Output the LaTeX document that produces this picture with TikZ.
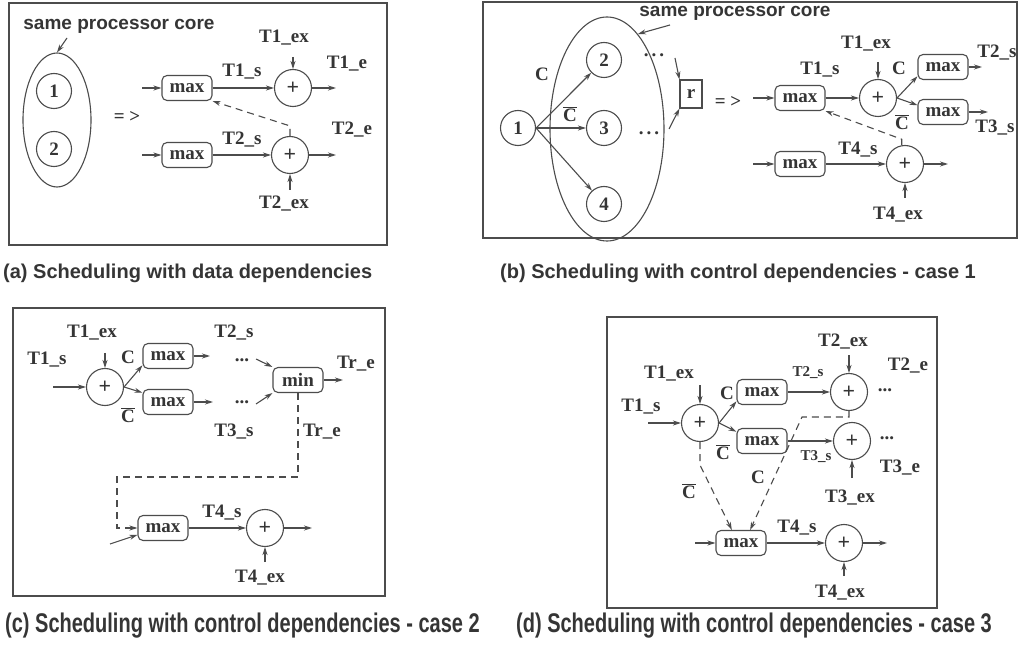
\documentclass[tikz,border=0pt]{standalone}
\usepackage{fontspec}
\usepackage{graphicx}
\setmainfont{Liberation Serif}
\newfontfamily\capsans{Liberation Sans}
\usetikzlibrary{arrows.meta,shapes.geometric}
\definecolor{ink}{HTML}{4C4C4C}
\definecolor{txt}{HTML}{353535}
\newcommand{\lblfont}{\fontsize{19}{22}\selectfont\bfseries}
\newcommand{\smlfont}{\fontsize{15}{18}\selectfont\bfseries}
\newcommand{\capfont}{\capsans\fontsize{20}{24}\selectfont\bfseries}
\newcommand{\Cbar}{$\overline{\hbox{C}}$}
\newcommand{\threedots}{.\hspace{3pt}.\hspace{3pt}.}
\tikzset{
  lbl/.style={font=\lblfont, text=txt, inner sep=0pt},
  sml/.style={font=\smlfont, text=txt, inner sep=0pt},
  maxbox/.style={draw=ink, line width=1.1pt, rounded corners=5pt, minimum width=50pt,
                 minimum height=25pt, inner sep=0pt, font=\lblfont, text=txt},
  rbox/.style={draw=ink, line width=1.1pt, minimum width=22pt, minimum height=28pt,
               inner sep=0pt, font=\lblfont, text=txt},
  sumnode/.style={circle, draw=ink, line width=1.1pt, minimum size=37pt, inner sep=0pt,
                  font=\fontsize{22}{24}\selectfont\bfseries, text=txt},
  tasknode/.style={circle, draw=ink, line width=1.1pt, minimum size=35pt, inner sep=0pt,
                   font=\lblfont, text=txt},
  coreell/.style={ellipse, draw=ink, line width=1.1pt, inner sep=0pt},
  panel/.style={draw=ink, line width=1.8pt},
  arr/.style={draw=ink, line width=1.1pt, -{Stealth[length=8pt,width=5pt]}},
  dsh/.style={dash pattern=on 7pt off 5pt},
  capt/.style={font=\capfont, text=txt, inner sep=0pt, anchor=west},
  coretext/.style={font=\capsans\fontsize{19}{22}\selectfont\bfseries, text=txt, inner sep=0pt},
}
\begin{document}
\begin{tikzpicture}[x=1pt,y=-1pt]
\useasboundingbox (0,0) rectangle (1021,647);
\fill[white] (0,0) rectangle (1021,647);

% ---------------- (a) data dependencies ----------------
\draw[panel] (9,3) rectangle (387,245);
\node[coretext] (a-core) at (119,26) {same processor core};
\node[coreell, minimum width=68pt, minimum height=134pt] (a-ell) at (57,120) {};
\node[tasknode] (a-1) at (54,91) {1};
\node[tasknode] (a-2) at (54,149) {2};
\coordinate (a-cs) at (67,38);
\draw[arr] (a-cs) -- (a-ell.north);
\node[lbl] (a-imp) at (127,117) {= >};

\node[maxbox] (a-m1) at (187,88) {max};
\node[maxbox] (a-m2) at (187,155) {max};
\coordinate (a-in1) at (142,88);
\coordinate (a-in2) at (142,155);
\draw[arr] (a-in1) -- (a-m1);
\draw[arr] (a-in2) -- (a-m2);
\node[sumnode] (a-p1) at (293,88) {+};
\node[sumnode] (a-p2) at (290,155) {+};
\draw[arr] (a-m1) -- (a-p1);
\draw[arr] (a-m2) -- (a-p2);
\node[lbl] (a-t1s) at (242,72) {T1\_s};
\node[lbl] (a-t2s) at (242,140) {T2\_s};
\node[lbl] (a-t1ex) at (284,38) {T1\_ex};
\node[lbl] (a-t2ex) at (284,204) {T2\_ex};
\node[lbl] (a-t1e) at (347,64) {T1\_e};
\node[lbl] (a-t2e) at (352,130) {T2\_e};
\coordinate (a-x1) at (293,57);
\coordinate (a-x2) at (290,190);
\draw[arr] (a-x1) -- (a-p1);
\draw[arr] (a-x2) -- (a-p2);
\coordinate (a-o1) at (336,88);
\coordinate (a-o2) at (336,155);
\draw[arr] (a-p1) -- (a-o1);
\draw[arr] (a-p2) -- (a-o2);
\draw[arr, dsh] (a-p2.north) -- ++(0,-10) -- (a-m1.south east);

% ---------------- (b) control dependencies, case 1 ----------------
\draw[panel] (483,2) rectangle (1017,238);
\node[coreell, minimum width=114pt, minimum height=224pt] (b-ell) at (607,129) {};
\node[coretext] (b-core) at (735,13) {same processor core};
\coordinate (b-cs) at (670,25);
\draw[arr] (b-cs) -- (b-ell.72);
\node[tasknode] (b-1) at (518,128) {1};
\node[tasknode] (b-2) at (604,60) {2};
\node[tasknode] (b-3) at (604,128) {3};
\node[tasknode] (b-4) at (604,204) {4};
\draw[arr] (b-1.east) -- (b-2);
\draw[arr] (b-1.east) -- (b-3);
\draw[arr] (b-1.east) -- (b-4);
\node[lbl] (b-c) at (542,74) {C};
\node[lbl] (b-cb) at (570,114) {\Cbar};
\node[lbl] (b-d2) at (654,55) {\threedots};
\node[lbl] (b-d3) at (649,133) {\threedots};
\node[rbox] (b-r) at (691,94) {r};
\coordinate (b-rin1) at (675,58);
\coordinate (b-rin2) at (669,129);
\draw[arr] (b-rin1) -- (b-r.north west);
\draw[arr] (b-rin2) -- (b-r.south west);
\node[lbl] (b-imp) at (728,102) {= >};

\node[maxbox] (b-mA) at (800,98) {max};
\node[maxbox] (b-mD) at (800,164) {max};
\coordinate (b-inA) at (753,98);
\coordinate (b-inD) at (753,164);
\draw[arr] (b-inA) -- (b-mA);
\draw[arr] (b-inD) -- (b-mD);
\node[sumnode] (b-p1) at (878,98) {+};
\node[sumnode] (b-p2) at (905,164) {+};
\draw[arr] (b-mA) -- (b-p1);
\draw[arr] (b-mD) -- (b-p2);
\node[lbl] (b-t1s) at (820,70) {T1\_s};
\node[lbl] (b-t1ex) at (866,44) {T1\_ex};
\coordinate (b-x1) at (878,62);
\draw[arr] (b-x1) -- (b-p1);
\node[maxbox] (b-mB) at (943,67) {max};
\node[maxbox] (b-mC) at (943,112) {max};
\draw[arr] (b-p1.east) -- (b-mB.200);
\draw[arr] (b-p1.east) -- (b-mC.165);
\node[lbl] (b-c2) at (899,68) {C};
\node[lbl] (b-cb2) at (902,122) {\Cbar};
\coordinate (b-oB) at (982,67);
\coordinate (b-oC) at (988,112);
\draw[arr] (b-mB) -- (b-oB);
\draw[arr] (b-mC) -- (b-oC);
\node[lbl] (b-t2s) at (997,53) {T2\_s};
\node[lbl] (b-t3s) at (995,128) {T3\_s};
\node[lbl] (b-t4s) at (858,150) {T4\_s};
\node[lbl] (b-t4ex) at (898,215) {T4\_ex};
\coordinate (b-x4) at (905,198);
\draw[arr] (b-x4) -- (b-p2);
\coordinate (b-o4) at (948,164);
\draw[arr] (b-p2) -- (b-o4);
\draw[arr, dsh] (b-p2.100) -- ++(0,-6) -- (b-mA.south east);

% ---------------- (c) control dependencies, case 2 ----------------
\draw[panel] (13,308) rectangle (385,596);
\node[lbl] (c-t1s) at (47,360) {T1\_s};
\node[lbl] (c-t1ex) at (92,333) {T1\_ex};
\node[sumnode] (c-p1) at (105,387) {+};
\coordinate (c-x1) at (105,353);
\draw[arr] (c-x1) -- (c-p1);
\coordinate (c-in1) at (53,387);
\draw[arr] (c-in1) -- (c-p1);
\node[maxbox] (c-mA) at (168,356) {max};
\node[maxbox] (c-mB) at (168,402) {max};
\draw[arr] (c-p1.east) -- (c-mA.200);
\draw[arr] (c-p1.east) -- (c-mB.160);
\node[lbl] (c-c) at (128,357) {C};
\node[lbl] (c-cb) at (128,415) {\Cbar};
\coordinate (c-oA) at (210,356);
\coordinate (c-oB) at (213,402);
\draw[arr] (c-mA) -- (c-oA);
\draw[arr] (c-mB) -- (c-oB);
\node[lbl] (c-dA) at (242,360) {...};
\node[lbl] (c-dB) at (242,402) {...};
\node[lbl] (c-t2s) at (234,333) {T2\_s};
\node[lbl] (c-t3s) at (234,432) {T3\_s};
\node[maxbox] (c-min) at (298,380) {min};
\coordinate (c-ia) at (256,359);
\coordinate (c-ib) at (256,404);
\draw[arr] (c-ia) -- (c-min.north west);
\draw[arr] (c-ib) -- (c-min.south west);
\coordinate (c-om) at (343,380);
\draw[arr] (c-min) -- (c-om);
\node[lbl] (c-tre) at (356,364) {Tr\_e};
\node[lbl] (c-tre2) at (322,432) {Tr\_e};
\node[maxbox] (c-mC) at (163,528) {max};
\coordinate (c-k1) at (298,477);
\coordinate (c-k2) at (117,477);
\coordinate (c-k3) at (117,528);
\draw[arr, dsh] (c-min.south) -- (c-k1) -- (c-k2) -- (c-k3) -- (c-mC.west);
\coordinate (c-inC) at (110,544);
\draw[arr] (c-inC) -- (c-mC.195);
\node[lbl] (c-t4s) at (222,513) {T4\_s};
\node[sumnode] (c-p2) at (265,528) {+};
\draw[arr] (c-mC) -- (c-p2);
\coordinate (c-o2) at (312,528);
\draw[arr] (c-p2) -- (c-o2);
\node[lbl] (c-t4ex) at (260,578) {T4\_ex};
\coordinate (c-x2) at (265,562);
\draw[arr] (c-x2) -- (c-p2);

% ---------------- (d) control dependencies, case 3 ----------------
\draw[panel] (607,317) rectangle (937,608);
\node[lbl] (d-t1ex) at (669,374) {T1\_ex};
\node[lbl] (d-t1s) at (641,407) {T1\_s};
\node[sumnode] (d-p1) at (700,423) {+};
\coordinate (d-x1) at (700,385);
\draw[arr] (d-x1) -- (d-p1);
\coordinate (d-in1) at (648,423);
\draw[arr] (d-in1) -- (d-p1);
\node[maxbox] (d-mA) at (762,392) {max};
\node[maxbox] (d-mB) at (762,441) {max};
\draw[arr] (d-p1.east) -- (d-mA.200);
\draw[arr] (d-p1.east) -- (d-mB.160);
\node[lbl] (d-c) at (727,393) {C};
\node[lbl] (d-cb) at (723,452) {\Cbar};
\node[sumnode] (d-p2) at (849,392) {+};
\node[sumnode] (d-p3) at (852,441) {+};
\draw[arr] (d-mA) -- (d-p2);
\draw[arr] (d-mB) -- (d-p3);
\node[sml] (d-t2s) at (808,373) {T2\_s};
\node[sml] (d-t3s) at (816,457) {T3\_s};
\node[lbl] (d-t2ex) at (843,342) {T2\_ex};
\coordinate (d-x2) at (849,355);
\draw[arr] (d-x2) -- (d-p2);
\node[lbl] (d-d2) at (885,390) {...};
\node[lbl] (d-t2e) at (908,366) {T2\_e};
\node[lbl] (d-d3) at (887,438) {...};
\node[lbl] (d-t3e) at (900,468) {T3\_e};
\node[lbl] (d-t3ex) at (850,498) {T3\_ex};
\coordinate (d-x3) at (852,478);
\draw[arr] (d-x3) -- (d-p3);
\node[maxbox] (d-mC) at (741,543) {max};
\coordinate (d-k1) at (849,417);
\coordinate (d-k2) at (802,417);
\draw[arr, dsh] (d-p2.south) -- (d-k1) -- (d-k2) -- (d-mC.55);
\coordinate (d-k3) at (700,465);
\draw[arr, dsh] (d-p1.south) -- (d-k3) -- (d-mC.125);
\node[lbl] (d-c2) at (758,477) {C};
\node[lbl] (d-cb2) at (689,491) {\Cbar};
\coordinate (d-inC) at (695,543);
\draw[arr] (d-inC) -- (d-mC);
\node[lbl] (d-t4s) at (797,528) {T4\_s};
\node[sumnode] (d-p4) at (844,543) {+};
\draw[arr] (d-mC) -- (d-p4);
\coordinate (d-o4) at (887,543);
\draw[arr] (d-p4) -- (d-o4);
\node[lbl] (d-t4ex) at (840,593) {T4\_ex};
\coordinate (d-x4) at (844,576);
\draw[arr] (d-x4) -- (d-p4);

% ---------------- captions ----------------
\node[capt] (cap-a) at (3,273) {(a) Scheduling with data dependencies};
\node[capt] (cap-b) at (500,273) {(b) Scheduling with control dependencies - case 1};
\node[capt] (cap-c) at (5,626) {\scalebox{1}[1.35]{(c) Scheduling with control dependencies - case 2}};
\node[capt] (cap-d) at (516,626) {\scalebox{1}[1.35]{(d) Scheduling with control dependencies - case 3}};
\end{tikzpicture}
\end{document}
